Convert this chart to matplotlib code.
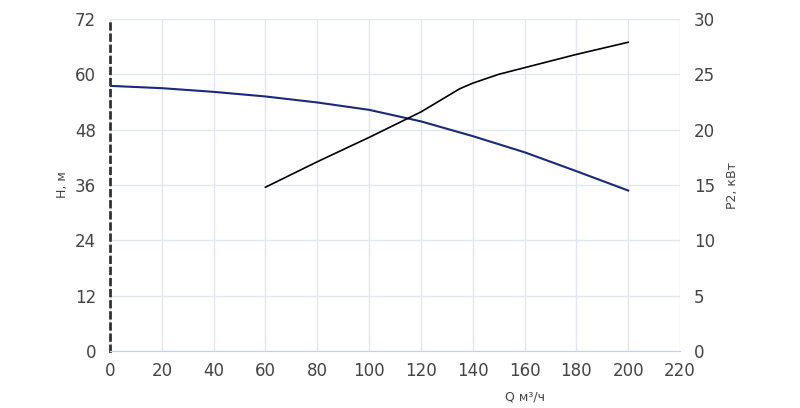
import matplotlib
matplotlib.use("Agg")
import matplotlib.pyplot as plt

q_h = [0, 20, 40, 60, 80, 100, 120, 140, 160, 180, 200]
h = [57.5, 57.0, 56.2, 55.2, 53.9, 52.3, 49.8, 46.6, 43.1, 39.0, 34.8]
q_p = [60, 80, 100, 120, 125, 130, 135, 140, 150, 160, 180, 200]
p = [14.8, 17.1, 19.3, 21.6, 22.3, 23.0, 23.7, 24.2, 25.0, 25.6, 26.8, 27.9]
xticks = list(range(0, 221, 20))
hticks = [0, 12, 24, 36, 48, 60, 72]
pticks = [0, 5, 10, 15, 20, 25, 30]

fig = plt.figure(figsize=(8, 4.08), dpi=100)
ax = fig.add_axes([110/800, 1-351/408, 570/800, 332/408])
ax2 = ax.twinx()
tc = '#444444'
ax.set_xlim(0, 220); ax.set_ylim(0, 72); ax2.set_ylim(0, 30)
ax.set_xticks(xticks); ax.set_yticks(hticks); ax2.set_yticks(pticks)
ax.grid(True, color='#e3e6ee', lw=1)
for a in (ax, ax2):
    for s in a.spines.values(): s.set_visible(False)
    a.tick_params(length=0, labelsize=12, labelcolor=tc, pad=10)
ax.tick_params(axis='x', pad=8)
ax.spines['bottom'].set_visible(True); ax.spines['bottom'].set_color('#c8d0ee')
ax.spines['left'].set_visible(True); ax.spines['left'].set_color('#333333')
ax.spines['left'].set_linestyle((0, (2, 2))); ax.spines['left'].set_linewidth(2)
ax.plot(q_h, h, color='#1a2a7a', lw=1.5)
ax2.plot(q_p, p, color='black', lw=1.2)
ax.set_ylabel('H, м', fontsize=9, color=tc)
ax2.set_ylabel('P2, кВт', fontsize=9, color=tc, labelpad=8)
ax.set_xlabel('Q м³/ч', fontsize=9, color=tc, va='center')
ax.xaxis.set_label_coords(415/570, -0.14)
fig.savefig('out.png')
